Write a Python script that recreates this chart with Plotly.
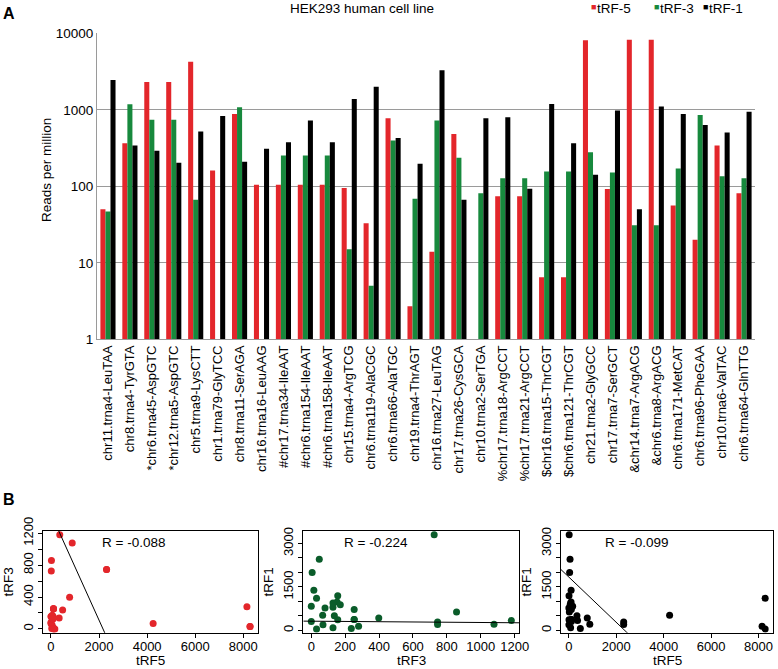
import numpy as np
import plotly.graph_objects as go

# ---------------- data ----------------
categories = [
    "chr11.trna4-LeuTAA", "chr8.trna4-TyrGTA", "*chr6.trna45-AspGTC", "*chr12.trna5-AspGTC",
    "chr5.trna9-LysCTT", "chr1.trna79-GlyTCC", "chr8.trna11-SerAGA", "chr16.trna16-LeuAAG",
    "#chr17.trna34-IleAAT", "#chr6.trna154-IleAAT", "#chr6.trna158-IleAAT", "chr15.trna4-ArgTCG",
    "chr6.trna119-AlaCGC", "chr6.trna66-AlaTGC", "chr19.trna4-ThrAGT", "chr16.trna27-LeuTAG",
    "chr17.trna26-CysGCA", "chr10.trna2-SerTGA", "%chr17.trna18-ArgCCT", "%chr17.trna21-ArgCCT",
    "$chr16.trna15-ThrCGT", "$chr6.trna121-ThrCGT", "chr21.trna2-GlyGCC", "chr17.trna7-SerGCT",
    "&chr14.trna7-ArgACG", "&chr6.trna8-ArgACG", "chr6.trna171-MetCAT", "chr6.trna96-PheGAA",
    "chr10.trna6-ValTAC", "chr6.trna64-GlnTTG",
]
trf5 = [50, 366, 2313, 2313, 4250, 161, 884, 105, 105, 105, 105, 95, 33, 776, 2.7,
        14, 485, 0, 74, 74, 6.5, 6.5, 8150, 92, 8280, 8280, 56, 20, 341, 81]
trf3 = [47, 1180, 745, 745, 67, 0, 1078, 0, 253, 253, 253, 15, 5, 398, 69,
        725, 236, 81, 128, 128, 156, 156, 279, 152, 31, 31, 171, 857, 136, 128]
trf1 = [2455, 341, 291, 203, 520, 832, 210, 310, 377, 725, 377, 1383, 2000, 430, 197,
        3300, 67, 776, 800, 93, 1194, 366, 142, 980, 50, 1110, 884, 635, 505, 948]
series_names = ["tRF-5", "tRF-3", "tRF-1"]
bar_ticks = [1, 10, 100, 1000, 10000]
r_labels = ["R = -0.088", "R = -0.224", "R = -0.099"]
scatter_axis_names = [("tRF5", "tRF3"), ("tRF3", "tRF1"), ("tRF5", "tRF1")]

# ---------------- style ----------------
RED = "#E3262B"
GREEN = "#17893D"
DKGREEN = "#0A5C2A"
BLACK = "#000000"
GRID = "#9a9a9a"
FONT = "Liberation Sans, Arial, Helvetica, sans-serif"
FS = 13.5
W, H = 778, 669


def fx(p):
    return p / W


def fy(p):
    return 1 - p / H


def pad(v):
    lo, hi = float(np.min(v)), float(np.max(v))
    d = (hi - lo) * 0.04
    return [lo - d, hi + d]


fig = go.Figure()

# ---- panel A: grouped bars on log axis ----
for name, vals, col in zip(series_names, [trf5, trf3, trf1], [RED, GREEN, BLACK]):
    fig.add_trace(go.Bar(
        x=categories, y=[v if v > 0 else None for v in vals], name=name,
        marker=dict(color=col, line=dict(width=0)),
        xaxis="x", yaxis="y", showlegend=False,
    ))

# ---- panel B: scatter plots ----
series = {"tRF5": trf5, "tRF3": trf3, "tRF1": trf1}
scatter_cols = [RED, DKGREEN, BLACK]
ranges = []
for i, ((xn, yn), col) in enumerate(zip(scatter_axis_names, scatter_cols)):
    ax = i + 2
    xs = np.array(series[xn], float)
    ys = np.array(series[yn], float)
    xr, yr = pad(xs), pad(ys)
    ranges.append((xr, yr))
    fig.add_trace(go.Scatter(
        x=xs, y=ys, mode="markers", marker=dict(color=col, size=7, line=dict(width=0)),
        xaxis=f"x{ax}", yaxis=f"y{ax}", showlegend=False,
    ))
    # line as drawn in the original: abline(lm(x ~ y))
    b = np.cov(xs, ys, ddof=1)[0, 1] / np.var(ys, ddof=1)
    a = xs.mean() - b * ys.mean()
    lx = np.linspace(xr[0], xr[1], 200)
    fig.add_trace(go.Scatter(
        x=lx, y=a + b * lx, mode="lines", line=dict(color="black", width=1),
        xaxis=f"x{ax}", yaxis=f"y{ax}", showlegend=False, hoverinfo="skip",
    ))

layout = dict(
    width=W, height=H, margin=dict(l=0, r=0, t=0, b=0, autoexpand=False),
    paper_bgcolor="white", plot_bgcolor="white",
    font=dict(family=FONT, size=FS, color="black"),
    barmode="group", bargap=0.31, bargroupgap=0,
    xaxis=dict(domain=[fx(97), fx(755)], anchor="y", type="category", automargin=False,
               showgrid=False, showline=True, linecolor=GRID, linewidth=1,
               ticks="", tickangle=-90, tickfont=dict(size=13), tickmode="linear", dtick=1),
    yaxis=dict(domain=[fy(339.3), fy(33.3)], anchor="x", type="log", range=[0, 4.001],
               automargin=False,
               tickvals=bar_ticks, ticktext=[str(t) for t in bar_ticks],
               showgrid=True, gridcolor=GRID, gridwidth=1, showline=True, linecolor=GRID,
               ticks="", zeroline=False, tickfont=dict(size=FS)),
)

box_x = [(43, 258), (303.3, 519.3), (561, 773)]
x_dticks = [2000, 200, 2000]
y_dticks = [(400, 200), (1500, 500), (1500, 500)]
for i in range(3):
    ax = i + 2
    xr, yr = ranges[i]
    xn, yn = scatter_axis_names[i]
    layout[f"xaxis{ax}"] = dict(
        domain=[fx(box_x[i][0]), fx(box_x[i][1])], anchor=f"y{ax}", range=xr, automargin=False,
        showgrid=False, zeroline=False, showline=True, mirror=True, linecolor="black", linewidth=1,
        ticks="outside", ticklen=4, tickcolor="black", tick0=0, dtick=x_dticks[i],
        tickfont=dict(size=13), ticklabelstandoff=-2,
    )
    layout[f"yaxis{ax}"] = dict(
        domain=[fy(632.7), fy(531)], anchor=f"x{ax}", range=yr, automargin=False,
        showgrid=False, zeroline=False, showline=True, mirror=True, linecolor="black", linewidth=1,
        ticks="outside", ticklen=4, tickcolor="black", tick0=0, dtick=y_dticks[i][0],
        minor=dict(dtick=y_dticks[i][1], tick0=0, ticks="outside", ticklen=4,
                   tickcolor="black", showgrid=False),
        tickangle=-90, tickfont=dict(size=13),
        title=dict(text=yn, font=dict(size=FS), standoff=4),
    )

fig.update_layout(**layout)

ann = []
ann.append(dict(text="<b>A</b>", x=fx(1), y=fy(3), xref="paper", yref="paper",
                xanchor="left", yanchor="top", showarrow=False, font=dict(size=16)))
ann.append(dict(text="<b>B</b>", x=fx(1), y=fy(489), xref="paper", yref="paper",
                xanchor="left", yanchor="top", showarrow=False, font=dict(size=16)))
ann.append(dict(text="HEK293 human cell line", x=fx(362), y=fy(0), xref="paper", yref="paper",
                xanchor="center", yanchor="top", showarrow=False, borderpad=0,
                font=dict(size=FS)))
ann.append(dict(text="Reads per million", x=fx(46), y=fy(170), xref="paper", yref="paper",
                xanchor="center", yanchor="middle", textangle=-90, showarrow=False,
                font=dict(size=FS)))
# legend: small coloured squares followed by series names
for name, col, xl in zip(series_names, [RED, GREEN, BLACK], [590, 653, 702]):
    ann.append(dict(text="■", x=fx(xl), y=fy(1), xref="paper", yref="paper",
                    xanchor="left", yanchor="top", showarrow=False, borderpad=0,
                    font=dict(size=9, color=col)))
    ann.append(dict(text=name, x=fx(xl + 6), y=fy(0), xref="paper", yref="paper",
                    xanchor="left", yanchor="top", showarrow=False, borderpad=0,
                    font=dict(size=FS)))
r_pos = [0.265, 0.18, 0.2]
for i in range(3):
    ax = i + 2
    ann.append(dict(text=r_labels[i], x=r_pos[i], y=0.89, xref=f"x{ax} domain",
                    yref=f"y{ax} domain", xanchor="left", yanchor="middle",
                    showarrow=False, font=dict(size=FS)))
    # x-axis titles
    ann.append(dict(text=scatter_axis_names[i][0], x=0.5, y=fy(669), xref=f"x{ax} domain",
                    yref="paper", xanchor="center", yanchor="bottom", borderpad=0,
                    showarrow=False, font=dict(size=FS)))
fig.update_layout(annotations=ann)

fig.write_html("out.html", config={"displayModeBar": False},
               post_script="document.body.style.margin='0';document.body.style.overflow='hidden';")
